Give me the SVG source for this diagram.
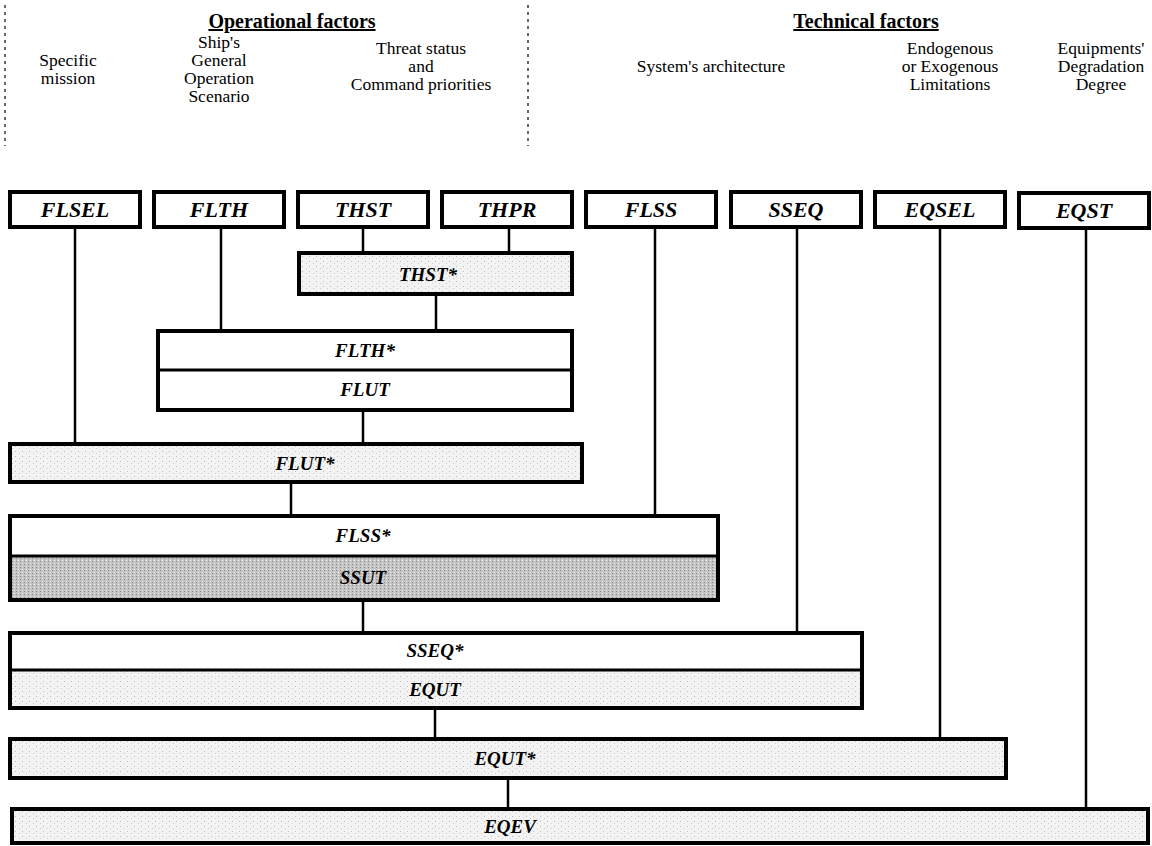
<svg xmlns="http://www.w3.org/2000/svg" width="1152" height="846" viewBox="0 0 1152 846">
<style>
.hdr{font-family:"Liberation Serif","Times New Roman",serif;font-size:20px;font-weight:bold;text-decoration:underline;text-anchor:middle;fill:#000}
.sub{font-family:"Liberation Serif","Times New Roman",serif;font-size:17.5px;text-anchor:middle;fill:#000}
.lbl{font-family:"Liberation Serif","Times New Roman",serif;font-size:19px;font-weight:bold;font-style:italic;text-anchor:middle;fill:#000}
.top{font-size:22px}
.box{fill:#fff;stroke:#000;stroke-width:4}
.dv{stroke:#000;stroke-width:3}
.con line{stroke:#000;stroke-width:2.5}
.dash{stroke:#000;stroke-width:1.2;stroke-dasharray:3 4}
</style>
<defs>
<pattern id="stip" width="7" height="5" patternUnits="userSpaceOnUse">
<rect width="7" height="5" fill="#f3f3f3"/>
<rect x="1" y="1" width="1" height="1" fill="#bbb"/>
<rect x="5" y="3" width="1" height="1" fill="#ccc"/>
</pattern>
<pattern id="dark" width="4" height="3" patternUnits="userSpaceOnUse">
<rect width="4" height="3" fill="#c4c4c4"/>
<rect x="0" y="0" width="1" height="1" fill="#888"/>
<rect x="2" y="2" width="1" height="1" fill="#eee"/>
</pattern>
</defs>
<rect width="1152" height="846" fill="#fff"/>

<g id="headers">
<line class="dash" x1="5" y1="5" x2="5" y2="146"/>
<line class="dash" x1="528" y1="5" x2="528" y2="146"/>
<text class="hdr" x="292" y="28">Operational factors</text>
<text class="hdr" x="866" y="28">Technical factors</text>
<text class="sub" x="68" y="66">Specific</text>
<text class="sub" x="68" y="84">mission</text>
<text class="sub" x="219" y="48">Ship's</text>
<text class="sub" x="219" y="66">General</text>
<text class="sub" x="219" y="84">Operation</text>
<text class="sub" x="219" y="102">Scenario</text>
<text class="sub" x="421" y="54">Threat status</text>
<text class="sub" x="421" y="72">and</text>
<text class="sub" x="421" y="90">Command priorities</text>
<text class="sub" x="711" y="72">System's architecture</text>
<text class="sub" x="950" y="54">Endogenous</text>
<text class="sub" x="950" y="72">or Exogenous</text>
<text class="sub" x="950" y="90">Limitations</text>
<text class="sub" x="1101" y="54">Equipments'</text>
<text class="sub" x="1101" y="72">Degradation</text>
<text class="sub" x="1101" y="90">Degree</text>
</g>

<g class="con" id="connectors">
<line x1="75" y1="227" x2="75" y2="443"/>
<line x1="221" y1="227" x2="221" y2="330"/>
<line x1="363" y1="227" x2="363" y2="252"/>
<line x1="509" y1="227" x2="509" y2="252"/>
<line x1="436" y1="294" x2="436" y2="330"/>
<line x1="655" y1="227" x2="655" y2="515"/>
<line x1="797" y1="227" x2="797" y2="632"/>
<line x1="940" y1="227" x2="940" y2="738"/>
<line x1="1086" y1="227" x2="1086" y2="808"/>
<line x1="363" y1="410" x2="363" y2="443"/>
<line x1="291" y1="482" x2="291" y2="515"/>
<line x1="363" y1="600" x2="363" y2="632"/>
<line x1="435" y1="708" x2="435" y2="738"/>
<line x1="508" y1="778" x2="508" y2="808"/>
</g>

<g id="FLSEL"><rect class="box" x="10" y="192" width="130" height="35"/><text class="lbl top" x="75" y="217">FLSEL</text></g>
<g id="FLTH"><rect class="box" x="154" y="192" width="130" height="35"/><text class="lbl top" x="219" y="217">FLTH</text></g>
<g id="THST"><rect class="box" x="298" y="192" width="130" height="35"/><text class="lbl top" x="363" y="217">THST</text></g>
<g id="THPR"><rect class="box" x="442" y="192" width="130" height="35"/><text class="lbl top" x="507" y="217">THPR</text></g>
<g id="FLSS"><rect class="box" x="586" y="192" width="130" height="35"/><text class="lbl top" x="651" y="217">FLSS</text></g>
<g id="SSEQ"><rect class="box" x="731" y="192" width="130" height="35"/><text class="lbl top" x="796" y="217">SSEQ</text></g>
<g id="EQSEL"><rect class="box" x="875" y="192" width="130" height="35"/><text class="lbl top" x="940" y="217">EQSEL</text></g>
<g id="EQST"><rect class="box" x="1019" y="193" width="130" height="35"/><text class="lbl top" x="1084" y="218">EQST</text></g>

<g id="THST_star"><rect class="box" x="299" y="253" width="273" height="41" style="fill:url(#stip)"/><text class="lbl" x="428" y="281">THST*</text></g>

<g id="FLTH_star_FLUT">
<rect class="box" x="158" y="331" width="414" height="79"/>
<line class="dv" x1="158" y1="370" x2="572" y2="370"/>
<text class="lbl" x="365" y="357">FLTH*</text>
<text class="lbl" x="365" y="396">FLUT</text>
</g>

<g id="FLUT_star"><rect class="box" x="10" y="444" width="572" height="38" style="fill:url(#stip)"/><text class="lbl" x="305" y="470">FLUT*</text></g>

<g id="FLSS_star_SSUT">
<rect x="10" y="557" width="708" height="42" fill="url(#dark)"/>
<rect class="box" x="10" y="516" width="708" height="84" style="fill:none"/>
<line class="dv" x1="10" y1="556" x2="718" y2="556"/>
<text class="lbl" x="363" y="542">FLSS*</text>
<text class="lbl" x="363" y="584">SSUT</text>
</g>

<g id="SSEQ_star_EQUT">
<rect x="10" y="671" width="852" height="36" fill="url(#stip)"/>
<rect class="box" x="10" y="633" width="852" height="75" style="fill:none"/>
<line class="dv" x1="10" y1="670" x2="862" y2="670"/>
<text class="lbl" x="435" y="657">SSEQ*</text>
<text class="lbl" x="435" y="696">EQUT</text>
</g>

<g id="EQUT_star"><rect class="box" x="10" y="739" width="996" height="39" style="fill:url(#stip)"/><text class="lbl" x="505" y="765">EQUT*</text></g>

<g id="EQEV"><rect class="box" x="12" y="809" width="1136" height="34" style="fill:url(#stip)"/><text class="lbl" x="510" y="833">EQEV</text></g>
</svg>
